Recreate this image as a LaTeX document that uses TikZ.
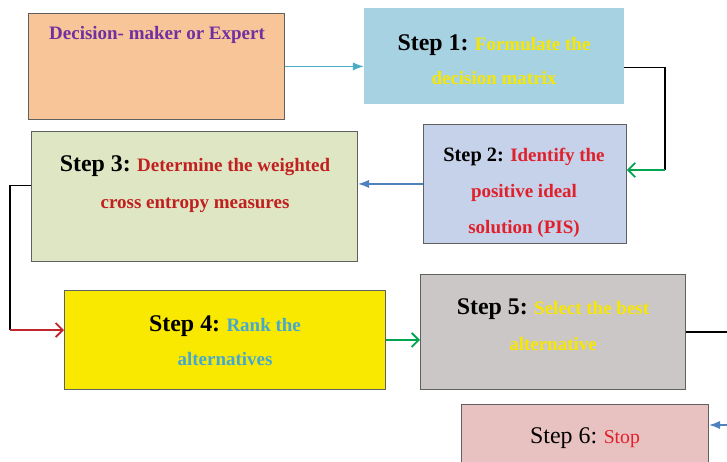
\documentclass[tikz,border=0pt]{standalone}
\usepackage{fontspec}
\setmainfont{Liberation Serif}
\usepackage{xcolor}
\usetikzlibrary{positioning,calc,arrows.meta}

\definecolor{peach}{HTML}{F8C598}
\definecolor{skyfill}{HTML}{A6D2E2}
\definecolor{lavfill}{HTML}{C6D1EA}
\definecolor{olivefill}{HTML}{DFE6C4}
\definecolor{yelfill}{HTML}{F9E900}
\definecolor{greyfill}{HTML}{CBC7C6}
\definecolor{pinkfill}{HTML}{E8C1C1}
\definecolor{purptxt}{HTML}{7030A0}
\definecolor{yeltxt}{HTML}{F7E700}
\definecolor{redtxt}{HTML}{E0202A}
\definecolor{darkred}{HTML}{C0201F}
\definecolor{bluetxt}{HTML}{45A8D0}
\definecolor{cyanarr}{HTML}{4BACC6}
\definecolor{bluearr}{HTML}{4F81BD}
\definecolor{greenarr}{HTML}{00A550}
\definecolor{redarr}{HTML}{C0262D}

\newcommand{\stp}[1]{{\fontsize{17}{24}\selectfont Step #1:}}

\begin{document}
\begin{tikzpicture}[x=0.025cm,y=-0.025cm,
    box/.style={rectangle,draw=gray!75!black,line width=0.6pt,anchor=north west,inner sep=0pt},
    txt/.style={align=center,font=\bfseries\fontsize{13.5}{24}\selectfont},
    line/.style={line width=1.3pt},
    arr/.style={-{Latex[length=8pt,width=6pt]},line width=1.3pt},
    barb/.style={-{Straight Barb[length=5pt,width=10pt]},line width=1.3pt}]

\useasboundingbox (0,0) rectangle (727,461);
\clip (0,0) rectangle (727,461);

% Boxes
\node[box,fill=peach,minimum width=6.4cm,minimum height=2.65cm] (dm) at (28,13) {};
\node[box,fill=skyfill,draw=none,minimum width=6.475cm,minimum height=2.4cm] (s1) at (364,8) {};
\node[box,fill=lavfill,minimum width=5.075cm,minimum height=2.975cm] (s2) at (423,124) {};
\node[box,fill=olivefill,minimum width=8.15cm,minimum height=3.25cm] (s3) at (31,131) {};
\node[box,fill=yelfill,minimum width=8.025cm,minimum height=2.475cm] (s4) at (64,290) {};
\node[box,fill=greyfill,minimum width=6.625cm,minimum height=2.875cm] (s5) at (420,274) {};
\node[box,fill=pinkfill,minimum width=6.175cm,minimum height=2.0cm] (s6) at (461,404) {};

% Texts
\node[txt,text=purptxt] (tdm) at (157,35) {Decision- maker or Expert};
\node[txt] (t1) at (494,60) {\stp{1} \textcolor{yeltxt}{Formulate the}\\\textcolor{yeltxt}{decision matrix}};
\node[txt,font=\bfseries\fontsize{13.5}{25.6}\selectfont] (t2) at (524,193) {{\fontsize{14.5}{25.6}\selectfont Step 2:} \textcolor{redtxt}{Identify the}\\\textcolor{redtxt}{positive ideal}\\\textcolor{redtxt}{solution (PIS)}};
\node[txt,font=\bfseries\fontsize{13.5}{26}\selectfont] (t3) at (195,184) {\stp{3} \textcolor{darkred}{Determine the weighted}\\\textcolor{darkred}{cross entropy measures}};
\node[txt] (t4) at (225,341) {\stp{4} \textcolor{bluetxt}{Rank the}\\\textcolor{bluetxt}{alternatives}};
\node[txt,font=\bfseries\fontsize{13.5}{25.6}\selectfont] (t5) at (553,325) {\stp{5} \textcolor{yeltxt}{Select the best}\\\textcolor{yeltxt}{alternative}};
\node[txt,font=\fontsize{14}{24}\selectfont] (t6) at (585,438) {{\fontsize{17}{24}\selectfont Step 6:} \textcolor{redtxt}{Stop}};

% Corners
\coordinate (c1) at (665,170);
\coordinate (c2) at (10,330);
\coordinate (c3) at (740,330);
\coordinate (c4) at (740,425);

% Connectors
\draw[arr,cyanarr] (dm.east) -- (dm.east -| s1.west);
\draw[line] ($(s1.east)+(0,11)$) -| (c1);
\draw[barb,greenarr] (c1) -- (c1 -| s2.east);
\draw[arr,bluearr] (s2.west) -- (s2.west -| s3.east);
\draw[line] ($(s3.west)+(0,-11)$) -| (c2);
\draw[barb,redarr] (c2) -- (c2 -| s4.west);
\draw[barb,greenarr] (s4.east) -- (s4.east -| s5.west);
\draw[line] (s5.east) -- (s5.east -| c3);
\draw[arr,bluearr] (c4) -- (c4 -| s6.east);

\end{tikzpicture}
\end{document}
